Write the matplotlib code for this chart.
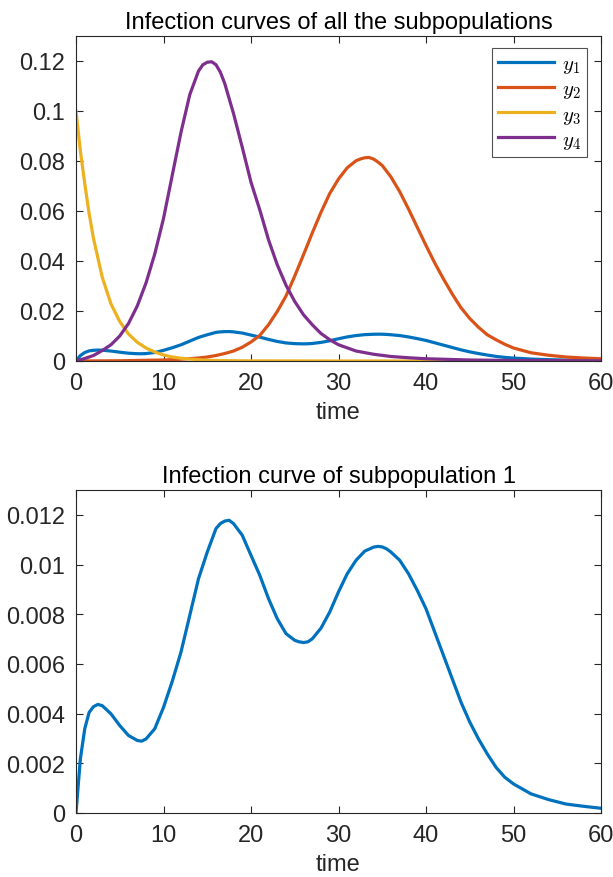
import matplotlib
matplotlib.use("Agg")
import matplotlib.pyplot as plt
import numpy as np

plt.rcParams['font.family'] = ['Liberation Sans', 'DejaVu Sans']
plt.rcParams['mathtext.fontset'] = 'cm'

# ---- data ----
t1 = [0, 0.5, 1, 1.5, 2, 2.5, 3, 4, 5, 6, 7, 7.5, 8, 9, 10, 11, 12, 13, 14, 15, 16, 16.5,
      17, 17.5, 18, 19, 20, 21, 22, 23, 24, 25, 25.5, 26, 26.5, 27, 28, 29, 30, 31, 32, 33,
      34, 34.5, 35, 35.5, 36, 37, 38, 39, 40, 41, 42, 43, 44, 45, 46, 47, 48, 49, 50, 52,
      54, 56, 58, 60]
y1 = [0, 0.00218, 0.00339, 0.00405, 0.00428, 0.00437, 0.00432, 0.00399, 0.00352, 0.00312,
      0.00292, 0.00289, 0.00298, 0.00339, 0.00425, 0.00530, 0.00648, 0.00795, 0.00943,
      0.01050, 0.01145, 0.01165, 0.01175, 0.01178, 0.01165, 0.01118, 0.01037, 0.00957,
      0.00863, 0.00782, 0.00722, 0.00695, 0.00689, 0.00686, 0.00689, 0.00701, 0.00744,
      0.00809, 0.00890, 0.00963, 0.01017, 0.01054, 0.01070, 0.01073, 0.01071, 0.01063,
      0.01050, 0.01017, 0.00963, 0.00896, 0.00822, 0.00728, 0.00634, 0.00540, 0.00446,
      0.00366, 0.00298, 0.00238, 0.00184, 0.00144, 0.00117, 0.00077, 0.00054, 0.00036,
      0.00027, 0.00019]

t2 = [0, 5, 10, 12, 14, 15, 16, 17, 18, 19, 20, 21, 22, 23, 24, 25, 26, 27, 28, 29, 30,
      31, 32, 32.5, 33, 33.5, 34, 34.5, 35, 36, 37, 38, 39, 40, 41, 42, 43, 44, 45, 46,
      47, 48, 49, 50, 52, 54, 56, 58, 60]
y2 = [0, 0.0001, 0.0004, 0.0007, 0.0012, 0.0016, 0.0022, 0.0030, 0.0040, 0.0055, 0.0076,
      0.0102, 0.0145, 0.0198, 0.0260, 0.0340, 0.0425, 0.0512, 0.0595, 0.0670, 0.0728,
      0.0773, 0.0801, 0.0808, 0.0813, 0.0814, 0.0808, 0.0796, 0.0782, 0.0736, 0.0677,
      0.0608, 0.0535, 0.0462, 0.0392, 0.0328, 0.0268, 0.0213, 0.0170, 0.0135, 0.0105,
      0.0085, 0.0067, 0.0052, 0.0033, 0.0023, 0.0016, 0.0012, 0.0009]

t3 = [0, 0.5, 1, 1.5, 2, 3, 4, 5, 6, 7, 8, 9, 10, 11, 12, 13, 14, 15, 16, 18, 20, 30, 40, 50, 60]
y3 = [0.1, 0.084, 0.071, 0.059, 0.049, 0.0335, 0.0228, 0.0158, 0.0108, 0.0075, 0.0052,
      0.0036, 0.0024, 0.0016, 0.0011, 0.0008, 0.0005, 0.0003, 0.0002, 0.0001, 0.00005,
      0, 0, 0, 0]

t4 = [0, 1, 2, 3, 4, 5, 6, 7, 8, 9, 10, 11, 12, 13, 14, 14.5, 15, 15.5, 16, 16.5, 17, 18,
      19, 20, 21, 22, 23, 24, 25, 26, 27, 28, 29, 30, 32, 34, 36, 38, 40, 45, 50, 55, 60]
y4 = [0, 0.0010, 0.0022, 0.0042, 0.0065, 0.0100, 0.0150, 0.0220, 0.0312, 0.0428, 0.0570,
      0.0743, 0.0915, 0.1065, 0.1160, 0.1185, 0.1195, 0.1197, 0.1185, 0.1155, 0.1110,
      0.0990, 0.0855, 0.0715, 0.0605, 0.0485, 0.0385, 0.0303, 0.0238, 0.0185, 0.0145,
      0.0110, 0.0085, 0.0065, 0.0040, 0.0027, 0.0018, 0.0013, 0.0009, 0.0004, 0.0002,
      0.00015, 0.0001]

xticks = [0, 10, 20, 30, 40, 50, 60]
yticks_top = [0, 0.02, 0.04, 0.06, 0.08, 0.1, 0.12]
yticklabels_top = ['0', '0.02', '0.04', '0.06', '0.08', '0.1', '0.12']
yticks_bot = [0, 0.002, 0.004, 0.006, 0.008, 0.01, 0.012]
yticklabels_bot = ['0', '0.002', '0.004', '0.006', '0.008', '0.01', '0.012']
labels = ['$y_1$', '$y_2$', '$y_3$', '$y_4$']
colors = ['#0072BD', '#D95319', '#EDB120', '#7E2F8E']

title_top = 'Infection curves of all the subpopulations'
title_bot = 'Infection curve of subpopulation 1'

W, H = 613, 878
fig = plt.figure(figsize=(W / 100, H / 100), dpi=100)
ax1 = fig.add_axes([76 / W, 1 - 362 / H, 525 / W, 325 / H])
ax2 = fig.add_axes([76 / W, 1 - 814 / H, 525 / W, 323 / H])

edge = '#262626'
fs = 17

def style(ax):
    for s in ax.spines.values():
        s.set_color(edge)
        s.set_linewidth(0.8)
    ax.tick_params(direction='in', top=True, right=True, length=5, width=0.8,
                   colors=edge, labelsize=fs, pad=8)
    ax.set_xlim(0, 60)
    ax.set_xticks(xticks)
    ax.set_xlabel('time', fontsize=fs, color=edge, labelpad=5)

lw = 2.3
ax1.plot(t1, y1, color=colors[0], lw=lw, label=labels[0])
ax1.plot(t2, y2, color=colors[1], lw=lw, label=labels[1])
ax1.plot(t3, y3, color=colors[2], lw=lw, label=labels[2])
ax1.plot(t4, y4, color=colors[3], lw=lw, label=labels[3])
style(ax1)
ax1.set_ylim(0, 0.13)
ax1.set_yticks(yticks_top)
ax1.set_yticklabels(yticklabels_top)
ax1.set_title(title_top, fontsize=fs, color='black', pad=6)
leg = ax1.legend(loc='upper right', bbox_to_anchor=((587 - 76) / 525, (362 - 49) / 325),
                 bbox_transform=ax1.transAxes, fontsize=15, frameon=True, fancybox=False,
                 edgecolor=edge, handlelength=2.7, handletextpad=0.35,
                 borderpad=0.3, labelspacing=0.2, borderaxespad=0.0)
leg.get_frame().set_linewidth(0.8)

ax2.plot(t1, y1, color=colors[0], lw=lw)
style(ax2)
ax2.set_ylim(0, 0.013)
ax2.set_yticks(yticks_bot)
ax2.set_yticklabels(yticklabels_bot)
ax2.set_title(title_bot, fontsize=fs, color='black', pad=6)

fig.savefig('out.png', dpi=100)
